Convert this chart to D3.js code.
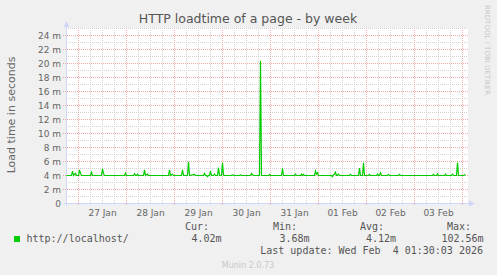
<!DOCTYPE html>
<html>
<head>
<meta charset="utf-8">
<script src="https://cdn.jsdelivr.net/npm/d3@7"></script>
<style>
  body { margin: 0; background: #f0f0f0; }
  svg { display: block; font-family: "DejaVu Sans", sans-serif; }
  .mono { font-family: "DejaVu Sans Mono", monospace; }
</style>
</head>
<body>
<div id="chart"></div>
<script>
// samples (time UTC, load time in milliseconds)
const sampleTimes = [
  "01-26 18:00", "01-26 20:30", "01-26 21:00", "01-26 21:30", "01-26 22:30", "01-26 23:00",
  "01-27 00:00", "01-27 00:30", "01-27 01:00", "01-27 01:30", "01-27 06:00", "01-27 06:30",
  "01-27 07:00", "01-27 11:30", "01-27 12:00", "01-27 12:30", "01-27 13:00", "01-27 23:00",
  "01-27 23:30", "01-28 00:00", "01-28 03:30", "01-28 04:00", "01-28 04:30", "01-28 05:00",
  "01-28 05:30", "01-28 06:00", "01-28 08:30", "01-28 09:00", "01-28 09:30", "01-28 10:30",
  "01-28 11:00", "01-28 21:00", "01-28 21:30", "01-28 22:00", "01-28 23:00", "01-28 23:30",
  "01-29 03:30", "01-29 04:00", "01-29 04:30", "01-29 06:30", "01-29 07:00", "01-29 07:30",
  "01-29 10:00", "01-29 10:30", "01-29 14:30", "01-29 15:00", "01-29 15:30", "01-29 16:00",
  "01-29 16:30", "01-29 17:00", "01-29 17:30", "01-29 18:00", "01-29 18:30", "01-29 19:30",
  "01-29 20:00", "01-29 20:30", "01-29 21:30", "01-29 22:00", "01-29 22:30", "01-29 23:30",
  "01-30 00:00", "01-30 00:30", "01-30 01:00", "01-30 04:30", "01-30 05:00", "01-30 05:30",
  "01-30 08:30", "01-30 09:00", "01-30 09:30", "01-30 14:00", "01-30 14:30", "01-30 15:00",
  "01-30 15:30", "01-30 18:30", "01-30 19:00", "01-30 19:30", "01-30 23:00", "01-30 23:30",
  "01-31 00:00", "01-31 05:30", "01-31 06:00", "01-31 06:30", "01-31 12:00", "01-31 12:30",
  "01-31 13:00", "01-31 15:00", "01-31 15:30", "01-31 16:00", "01-31 16:30", "01-31 17:00",
  "01-31 22:00", "01-31 22:30", "01-31 23:00", "01-31 23:30", "02-01 00:00", "02-01 06:30",
  "02-01 07:00", "02-01 07:30", "02-01 08:00", "02-01 08:30", "02-01 09:00", "02-01 09:30",
  "02-01 10:00", "02-01 10:30", "02-01 15:30", "02-01 16:00", "02-01 16:30", "02-01 20:00",
  "02-01 20:30", "02-01 21:00", "02-01 22:00", "02-01 22:30", "02-01 23:00", "02-02 01:00",
  "02-02 01:30", "02-02 02:00", "02-02 05:00", "02-02 05:30", "02-02 06:00", "02-02 06:30",
  "02-02 07:00", "02-02 07:30", "02-02 10:30", "02-02 11:00", "02-02 11:30", "02-02 16:00",
  "02-02 16:30", "02-02 17:00", "02-03 09:00", "02-03 09:30", "02-03 10:00", "02-03 11:00",
  "02-03 11:30", "02-03 12:00", "02-03 15:00", "02-03 15:30", "02-03 16:00", "02-03 18:30",
  "02-03 19:00", "02-03 19:30", "02-03 21:00", "02-03 21:30", "02-03 22:00", "02-04 00:30",
  "02-04 01:00", "02-04 01:30"
];
const loadMs = [
  4.0, 4.0, 4.64, 4.0, 4.3, 4.0,
  4.0, 4.8, 4.3, 4.0, 4.0, 4.45,
  4.0, 4.0, 4.95, 4.3, 4.0, 4.0,
  4.35, 4.0, 4.0, 4.25, 4.0, 4.0,
  4.2, 4.0, 4.0, 4.8, 4.0, 4.2,
  4.0, 4.0, 4.8, 4.0, 4.2, 4.0,
  4.0, 4.8, 4.0, 4.0, 5.95, 4.0,
  4.15, 4.0, 4.0, 4.3, 4.0, 4.0,
  3.83, 4.0, 4.0, 4.64, 4.0, 4.0,
  4.2, 4.0, 4.0, 5.1, 4.0, 4.0,
  5.8, 4.1, 4.0, 4.0, 4.1, 4.0,
  4.0, 4.1, 4.0, 4.0, 4.3, 4.1,
  4.0, 4.0, 20.4, 4.0, 4.0, 4.15,
  4.0, 4.0, 5.02, 4.0, 4.0, 4.2,
  4.0, 4.0, 4.2, 4.0, 4.15, 4.0,
  4.0, 4.64, 4.2, 4.4, 4.0, 4.0,
  3.83, 4.1, 4.2, 4.45, 4.0, 4.0,
  4.2, 4.0, 4.0, 4.15, 4.0, 4.0,
  5.05, 4.0, 4.0, 5.8, 4.0, 4.0,
  4.15, 4.0, 4.0, 4.2, 4.0, 4.0,
  4.4, 4.0, 4.0, 4.15, 4.0, 4.0,
  4.15, 4.0, 4.0, 4.15, 4.0, 4.0,
  4.25, 4.0, 4.0, 4.2, 4.0, 4.0,
  4.2, 4.0, 4.0, 5.85, 4.0, 4.0,
  4.1, 4.02
];
const yTicks = [0, 2, 4, 6, 8, 10, 12, 14, 16, 18, 20, 22, 24];
const dayLabels = ["27 Jan", "28 Jan", "29 Jan", "30 Jan", "31 Jan", "01 Feb", "02 Feb", "03 Feb"];
const legendStats = [
  { label: "Cur:", value: "4.02m" },
  { label: "Min:", value: "3.68m" },
  { label: "Avg:", value: "4.12m" },
  { label: "Max:", value: "102.56m" }
];
const seriesName = "http://localhost/";
const lastUpdate = "Last update: Wed Feb  4 01:30:03 2026";

const width = 497, height = 275;
const plotLeft = 66, plotRight = 466, plotTop = 28, plotBottom = 203;
const parseTime = d3.utcParse("%Y-%m-%d %H:%M");
const data = sampleTimes.map((t, i) => ({ t: parseTime("2026-" + t), v: loadMs[i] }));

const x = d3.scaleUtc()
  .domain([parseTime("2026-01-26 18:00"), parseTime("2026-02-04 02:00")])
  .range([plotLeft + 0.5, plotRight + 0.5]);
const y = d3.scaleLinear().domain([0, 25]).range([plotBottom + 0.5, plotTop + 0.5]);

const svg = d3.select("#chart").append("svg")
  .attr("width", width)
  .attr("height", height);

svg.append("rect").attr("width", width).attr("height", height).attr("fill", "#f0f0f0");
svg.append("rect")
  .attr("x", plotLeft).attr("y", plotTop)
  .attr("width", plotRight - plotLeft + 2).attr("height", plotBottom - plotTop)
  .attr("fill", "#ffffff");

const gridGray = "#d2d2d2", gridRed = "#f0aaaa";

// minor grid
const minorH = d3.range(1, 26).filter(d => d % 2 === 1);
svg.append("g").selectAll("line")
  .data(minorH)
  .join("line")
  .attr("x1", plotLeft).attr("x2", plotRight + 2)
  .attr("y1", d => y(d)).attr("y2", d => y(d))
  .attr("stroke", gridGray).attr("stroke-dasharray", "1,1");

const sixHours = d3.utcHour.every(6).range(x.domain()[0], x.domain()[1]).filter(d => d.getUTCHours() !== 0);
svg.append("g").selectAll("line")
  .data(sixHours)
  .join("line")
  .attr("x1", d => x(d)).attr("x2", d => x(d))
  .attr("y1", plotTop).attr("y2", plotBottom)
  .attr("stroke", gridGray).attr("stroke-dasharray", "1,1");

// major grid
svg.append("g").selectAll("line")
  .data(yTicks.filter(d => d > 0))
  .join("line")
  .attr("x1", plotLeft - 3).attr("x2", plotRight + 2)
  .attr("y1", d => y(d)).attr("y2", d => y(d))
  .attr("stroke", gridRed).attr("stroke-dasharray", "1,1");

const days = d3.utcDay.range(x.domain()[0], x.domain()[1]);
svg.append("g").selectAll("line")
  .data(days)
  .join("line")
  .attr("x1", d => x(d)).attr("x2", d => x(d))
  .attr("y1", plotTop).attr("y2", plotBottom + 3)
  .attr("stroke", gridRed).attr("stroke-dasharray", "1,1");

// axes
const axisColor = "#cfd6f8";
svg.append("line")
  .attr("x1", plotLeft + 0.5).attr("x2", plotLeft + 0.5)
  .attr("y1", plotTop - 2).attr("y2", plotBottom + 3)
  .attr("stroke", axisColor);
svg.append("line")
  .attr("x1", plotLeft - 2).attr("x2", plotRight + 4)
  .attr("y1", plotBottom + 0.5).attr("y2", plotBottom + 0.5)
  .attr("stroke", axisColor);
svg.append("path")
  .attr("d", `M${plotLeft - 2.5},${plotTop - 1}L${plotLeft + 0.5},${plotTop - 7}L${plotLeft + 3.5},${plotTop - 1}Z`)
  .attr("fill", axisColor);
svg.append("path")
  .attr("d", `M${plotRight + 3},${plotBottom - 2.5}L${plotRight + 9},${plotBottom + 0.5}L${plotRight + 3},${plotBottom + 3.5}Z`)
  .attr("fill", axisColor);

// tick labels
svg.append("g").selectAll("text")
  .data(yTicks)
  .join("text")
  .attr("x", 61)
  .attr("y", d => y(d) + 3.5)
  .attr("text-anchor", "end")
  .attr("font-size", "9px")
  .attr("fill", "#666")
  .text(d => d === 0 ? "0" : d + " m");

svg.append("g").selectAll("text")
  .data(days)
  .join("text")
  .attr("x", d => x(d3.utcHour.offset(d, 12)))
  .attr("y", 216)
  .attr("text-anchor", "middle")
  .attr("font-size", "9px")
  .attr("fill", "#666")
  .text((d, i) => dayLabels[i]);

// the series
const line = d3.line().x(d => x(d.t)).y(d => y(d.v));
svg.append("path")
  .datum(data)
  .attr("d", line)
  .attr("fill", "none")
  .attr("stroke", "#00cc00")
  .attr("stroke-width", 1.2);

// titles
svg.append("text")
  .attr("x", 248).attr("y", 23)
  .attr("text-anchor", "middle")
  .attr("font-size", "12.5px")
  .attr("fill", "#555")
  .text("HTTP loadtime of a page - by week");

svg.append("text")
  .attr("transform", "translate(15,115) rotate(-90)")
  .attr("text-anchor", "middle")
  .attr("font-size", "11px")
  .attr("fill", "#666")
  .text("Load time in seconds");

svg.append("text")
  .attr("transform", "translate(485,5) rotate(90)")
  .attr("font-size", "7px")
  .attr("fill", "#c8c8c8")
  .text("RRDTOOL / TOBI OETIKER");

// legend
svg.append("rect")
  .attr("x", 14).attr("y", 236)
  .attr("width", 6).attr("height", 6)
  .attr("fill", "#00cc00");
svg.append("text")
  .attr("class", "mono")
  .attr("x", 26.5).attr("y", 242)
  .attr("font-size", "10px")
  .attr("fill", "#555")
  .text(seriesName);

const statX = [185, 273, 360, 447];
const valueX = [191.5, 279.5, 366, 441.5];
legendStats.forEach((s, i) => {
  svg.append("text")
    .attr("class", "mono")
    .attr("x", statX[i]).attr("y", 230)
    .attr("font-size", "10px")
    .attr("fill", "#555")
    .text(s.label);
  svg.append("text")
    .attr("class", "mono")
    .attr("x", valueX[i]).attr("y", 242)
    .attr("font-size", "10px")
    .attr("fill", "#555")
    .text(s.value);
});

svg.append("text")
  .attr("class", "mono")
  .attr("x", 483).attr("y", 254)
  .attr("text-anchor", "end")
  .attr("font-size", "10px")
  .attr("fill", "#555")
  .attr("xml:space", "preserve")
  .style("white-space", "pre")
  .text(lastUpdate);

svg.append("text")
  .attr("x", 248).attr("y", 268)
  .attr("text-anchor", "middle")
  .attr("font-size", "8px")
  .attr("fill", "#c8c8c8")
  .text("Munin 2.0.73");
</script>
</body>
</html>
